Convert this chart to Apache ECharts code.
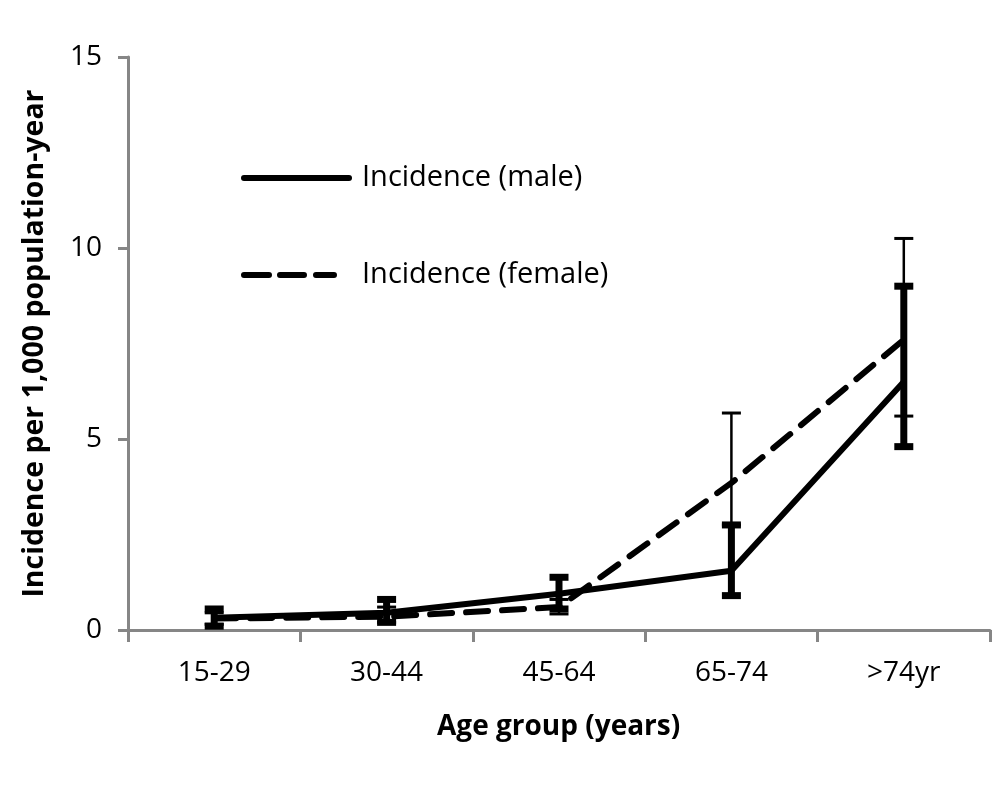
<!DOCTYPE html>
<html>
<head>
<meta charset="utf-8">
<script src="https://cdn.jsdelivr.net/npm/echarts@6/dist/echarts.min.js"></script>
<style>
html,body{margin:0;padding:0;background:#fff;}
#chart{width:1004px;height:797px;}
</style>
</head>
<body>
<div id="chart"></div>
<script>
var categories = ['15-29', '30-44', '45-64', '65-74', '>74yr'];
var maleValues = [0.32, 0.45, 0.95, 1.55, 6.5];
var maleLow = [0.1, 0.2, 0.55, 0.9, 4.8];
var maleHigh = [0.55, 0.8, 1.38, 2.75, 9.0];
var femaleValues = [0.3, 0.35, 0.6, 3.85, 7.6];
var femaleLow = [0.15, 0.2, 0.42, 2.75, 5.6];
var femaleHigh = [0.45, 0.6, 0.8, 5.68, 10.25];
var yTicks = [0, 5, 10, 15];

var FONT = '"Open Sans", sans-serif';
var AXIS_COLOR = '#868686';

var SOLID_ICON = 'path://M3,0 L108,0 A3,3 0 0 1 108,6 L3,6 A3,3 0 0 1 3,0 Z';
var DASH_ICON = 'path://M3,0 L28,0 A3,3 0 0 1 28,6 L3,6 A3,3 0 0 1 3,0 Z ' +
  'M39,0 L63,0 A3,3 0 0 1 63,6 L39,6 A3,3 0 0 1 39,0 Z ' +
  'M75,0 L93,0 A3,3 0 0 1 93,6 L75,6 A3,3 0 0 1 75,0 Z ' +
  'M110.9,2.95 L111,2.95 L111,3.05 Z';

function errData(low, high) {
  return categories.map(function (c, i) { return [i, low[i], high[i]]; });
}

function makeErrRender(barWidth, capW, capH) {
  return function (params, api) {
    var x = api.value(0);
    var lo = api.coord([x, api.value(1)]);
    var hi = api.coord([x, api.value(2)]);
    return {
      type: 'group',
      children: [
        { type: 'line', shape: { x1: lo[0], y1: lo[1], x2: hi[0], y2: hi[1] },
          style: { stroke: '#000', lineWidth: barWidth } },
        { type: 'rect', shape: { x: hi[0] - capW / 2, y: hi[1] - capH / 2, width: capW, height: capH },
          style: { fill: '#000' } },
        { type: 'rect', shape: { x: lo[0] - capW / 2, y: lo[1] - capH / 2, width: capW, height: capH },
          style: { fill: '#000' } }
      ]
    };
  };
}

var chart = echarts.init(document.getElementById('chart'), null, { renderer: 'canvas' });
chart.setOption({
  backgroundColor: '#fff',
  animation: false,
  title: {
    text: 'Age group (years)',
    left: 432, top: 708,
    textStyle: { fontFamily: FONT, fontWeight: 'bold', fontSize: 28, color: '#000' }
  },
  legend: {
    orient: 'vertical',
    left: 236, top: 157,
    itemWidth: 111, itemHeight: 6, itemGap: 65,
    data: [
      { name: 'Incidence (male)', icon: SOLID_ICON },
      { name: 'Incidence (female)', icon: DASH_ICON }
    ],
    itemStyle: { color: '#000' },
    textStyle: { fontFamily: FONT, fontSize: 29, color: '#000', lineHeight: 32, padding: [0, 0, 0, 5] },
    selectedMode: false
  },
  grid: { left: 128, right: 14, top: 57, bottom: 167, containLabel: false },
  xAxis: {
    type: 'category',
    data: categories,
    boundaryGap: true,
    axisLine: { lineStyle: { color: AXIS_COLOR, width: 3 } },
    axisTick: { show: true, interval: 0, length: 12, lineStyle: { color: AXIS_COLOR, width: 3 } },
    axisLabel: { interval: 0, margin: 29, fontFamily: FONT, fontSize: 28, color: '#000' },
    splitLine: { show: false }
  },
  yAxis: {
    type: 'value',
    min: yTicks[0], max: yTicks[yTicks.length - 1], interval: 5,
    name: 'Incidence per 1,000 population-year',
    nameLocation: 'middle',
    nameGap: 79,
    nameTextStyle: { fontFamily: FONT, fontWeight: 'bold', fontSize: 28.5, color: '#000' },
    axisLine: { show: true, lineStyle: { color: AXIS_COLOR, width: 3 } },
    axisTick: { show: true, length: 10, lineStyle: { color: AXIS_COLOR, width: 3 } },
    axisLabel: { margin: 26, fontFamily: FONT, fontSize: 28, color: '#000' },
    splitLine: { show: false }
  },
  series: [
    {
      type: 'custom', name: 'maleErr', z: 2,
      renderItem: makeErrRender(7, 19, 7),
      encode: { x: 0, y: [1, 2] },
      data: errData(maleLow, maleHigh)
    },
    {
      type: 'custom', name: 'femaleErr', z: 2,
      renderItem: makeErrRender(2.5, 19, 3),
      encode: { x: 0, y: [1, 2] },
      data: errData(femaleLow, femaleHigh)
    },
    {
      type: 'line', name: 'Incidence (male)', z: 3,
      data: maleValues,
      symbol: 'none',
      lineStyle: { color: '#000', width: 6, cap: 'round' },
      itemStyle: { color: '#000' }
    },
    {
      type: 'line', name: 'Incidence (female)', z: 3,
      data: femaleValues,
      symbol: 'none',
      lineStyle: { color: '#000', width: 6, type: [22, 14], cap: 'round' },
      itemStyle: { color: '#000' }
    }
  ]
});
</script>
</body>
</html>
